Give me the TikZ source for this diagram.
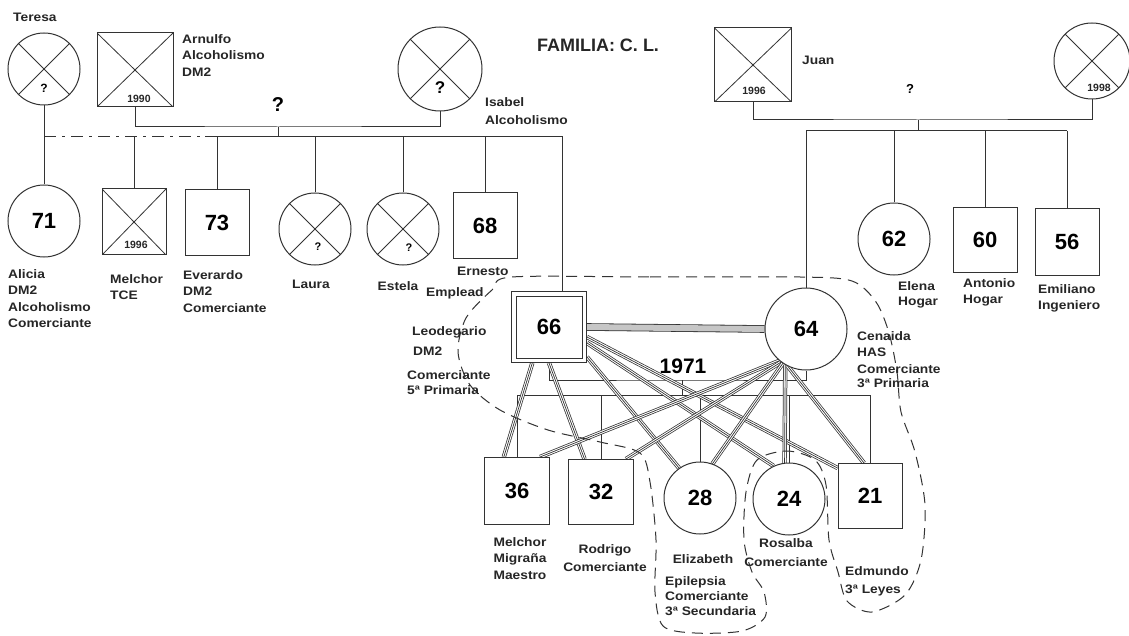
\documentclass[tikz,border=0pt]{standalone}
\usepackage{fontspec}
\setmainfont{Liberation Sans}
\newfontfamily\labfam{Liberation Sans}[FakeStretch=1.12]
\usetikzlibrary{calc}
\pgfdeclarelayer{bg}
\pgfsetlayers{bg,main}
\newcommand\labf{\labfam\bfseries\fontsize{12.3}{16.5}\selectfont}
\newcommand\numf{\bfseries\fontsize{22}{22}\selectfont}
\newcommand\yrf{\bfseries\fontsize{10.5}{11}\selectfont}
\definecolor{ink}{gray}{0.2}
\newcommand\trl[2]{\draw[tribase] #1 -- #2; \draw[tricore] #1 -- #2;}
\tikzset{
  mal/.style={draw=ink, line width=1pt, rectangle, minimum width=64pt, minimum height=66pt, font=\numf, fill=white},
  fem/.style={draw=ink, line width=1pt, circle, minimum size=72pt, font=\numf, fill=white},
  dead/.style={path picture={\draw[ink, line width=0.8pt] (path picture bounding box.north west) -- (path picture bounding box.south east) (path picture bounding box.south west) -- (path picture bounding box.north east);}},
  lab/.style={anchor=north west, align=left, font=\labf, text=black!85},
  labc/.style={anchor=north, align=center, font=\labf, text=black!85},
  yrlab/.style={font=\yrf, text=black!85},
  ln/.style={draw=ink, line width=1pt},
  hh/.style={draw=ink, line width=1pt, dash pattern=on 11pt off 7pt},
  tribase/.style={draw=ink, line width=0.75pt, double=white, double distance=2.8pt},
  tricore/.style={draw=ink, line width=0.7pt},
}
\begin{document}
\begin{tikzpicture}[x=1pt, y=-1pt, every node/.style={inner sep=0pt}]
\useasboundingbox (0,0) rectangle (1129,636);

% ---------- generation I ----------
\node[fem, dead, minimum size=72pt] (teresa) at (44,69) {};
\node[mal, dead, minimum width=76pt, minimum height=74pt] (arnulfo) at (135,70) {};
\node[fem, dead, minimum size=84pt] (isabel) at (440,69) {};
\node[mal, dead, minimum width=77pt, minimum height=74pt] (juan) at (753,65) {};
\node[fem, dead, minimum size=76pt] (juanw) at (1092,61) {};

\node[font=\bfseries\fontsize{12}{12}\selectfont] (qT) at (44,88) {?};
\node[font=\bfseries\fontsize{17}{17}\selectfont] (qI) at (440,88) {?};
\node[yrlab] (yA) at (139,99) {1990};
\node[yrlab] (yJ) at (754,91) {1996};
\node[yrlab] (yJw) at (1099,88) {1998};

% ---------- generation II ----------
\node[fem] (alicia) at (44,221) {71};
\node[mal, dead] (melchorA) at (134,222) {};
\node[yrlab] (yM) at (136,245) {1996};
\node[mal] (everardo) at (217,223) {73};
\node[fem, dead] (laura) at (315,229) {};
\node[fem, dead] (estela) at (403,229) {};
\node[font=\bfseries\fontsize{11}{11}\selectfont] (qL) at (318,247) {?};
\node[font=\bfseries\fontsize{11}{11}\selectfont] (qE) at (409,248) {?};
\node[mal] (ernesto) at (485,226) {68};
\node[mal, minimum width=75pt, minimum height=71pt] (leo) at (549,327) {66};
\draw[ink, line width=0.9pt] ($(leo.north west)+(5,5)$) rectangle ($(leo.south east)+(-5,-5)$);
\node[fem, minimum size=82pt] (cen) at (806,329) {64};
\node[fem] (elena) at (894,239) {62};
\node[mal, minimum height=65pt] (antonio) at (985,240) {60};
\node[mal, minimum height=67pt] (emiliano) at (1067,242) {56};

% ---------- generation III ----------
\node[mal, minimum width=65pt, minimum height=67pt] (s36) at (517,491) {36};
\node[mal, minimum width=65pt, minimum height=65pt] (s32) at (601,492) {32};
\node[fem] (c28) at (700,498) {28};
\node[fem] (c24) at (789,499) {24};
\node[mal, minimum height=65pt] (s21) at (870,496) {21};

\begin{pgfonlayer}{bg}
\fill[white] (0,0) rectangle (1129,636);
% ---------- family lines, generation I ----------
\coordinate (m1) at (278,127);
\coordinate (sib1) at (278,137);
\coordinate (sibL) at (205,137);
\coordinate (sibR) at (562,137);
\draw[ln] (arnulfo.south) |- (m1) -| (isabel.south);
\draw[ln] (m1) -- (sib1);
\draw[ln] (sibL) -- (sibR) -- (sibR |- leo.north);
\draw[ln, dash pattern=on 12pt off 6pt on 3pt off 6pt] (teresa.south |- sib1) -- (sibL);
\draw[ln] (teresa.south) -- (alicia.north);
\foreach \n in {melchorA, everardo, laura, estela, ernesto}
  \draw[ln] (\n.north |- sib1) -- (\n.north);

\coordinate (m2) at (918,120);
\coordinate (sib2) at (918,131);
\draw[ln] (juan.south) |- (m2) -| (juanw.south);
\draw[ln] (m2) -- (sib2);
\draw[ln] (cen.north |- sib2) -- (emiliano.north |- sib2);
\foreach \n in {cen, elena, antonio, emiliano}
  \draw[ln] (\n.north |- sib2) -- (\n.north);

% ---------- nuclear family ----------
\draw[draw=ink, line width=0.8pt, double=gray!45, double distance=6pt] (leo.east) -- (cen.west);
\coordinate (m3) at (682,380);
\coordinate (sib3) at (682,395);
\draw[ln] (leo.south) |- (m3) -| (cen.south);
\draw[ln] (m3) -- (sib3);
\draw[ln] (s36.north |- sib3) -- (s21.north |- sib3);
\foreach \n in {s36, s32, c28, c24, s21}
  \draw[ln] (\n.north |- sib3) -- (\n.north);

% relationship bundles from 66
\trl{($(leo.south west)!0.28!(leo.south east)$)}{($(s36.north west)!0.3!(s36.north east)$)}
\trl{($(leo.south west)!0.5!(leo.south east)$)}{($(s32.north west)!0.25!(s32.north east)$)}
\trl{($(leo.south east)+(0,-6)$)}{(c28.125)}
\trl{($(leo.east)+(0,16)$)}{(c24.115)}
\trl{($(leo.east)+(0,10)$)}{($(s21.north west)+(0,5)$)}
% relationship bundles from 64
\trl{(cen.230)}{($(s36.north east)+(-10,0)$)}
\trl{(cen.233)}{($(s32.north east)+(-8,0)$)}
\trl{(cen.236)}{(c28.70)}
\trl{(cen.240)}{(c24.97)}
\trl{(cen.244)}{($(s21.north)+(-6,0)$)}

% household line
\draw[hh] plot[smooth cycle, tension=0.5] coordinates {
 (512,277) (650,277) (800,277) (852,281) (876,302) (889,333) (897,372) (901,412)
 (915,452) (925,505) (921,560) (905,595) (872,612) (847,601) (838,572) (829,540)
 (826,485) (815,460) (787,451) (757,460) (746,492) (744,540) (752,572) (764,592)
 (765,617) (742,631) (695,633) (663,626) (655,592) (656,540) (650,482) (640,453)
 (600,442) (548,430) (500,410) (470,385) (458,352) (466,318) (492,290)};
\end{pgfonlayer}

\node[font=\bfseries\fontsize{20}{20}\selectfont] (qM) at (278,105) {?};
\node[font=\bfseries\fontsize{13}{13}\selectfont] (qJ) at (910,89) {?};
\node[font=\bfseries\fontsize{21}{21}\selectfont] (y71) at (683,366) {1971};

% ---------- labels ----------
\node[font=\bfseries\fontsize{18}{18}\selectfont, text=black!85] (title) at (598,45) {FAMILIA: C. L.};
\node[lab] (lTeresa) at (13,13) {Teresa};
\node[lab] (lArnulfo) at (182,34) {Arnulfo\\Alcoholismo\\DM2};
\node[lab] (lIsabel) at (485,97) {Isabel\\[2pt]Alcoholismo};
\node[lab] (lJuan) at (802,56) {Juan};
\node[lab] (lAlicia) at (8,269) {Alicia\\DM2\\Alcoholismo\\Comerciante};
\node[lab] (lMelchorA) at (110,274) {Melchor\\TCE};
\node[lab] (lEverardo) at (183,270) {Everardo\\DM2\\Comerciante};
\node[labc] (lLaura) at (311,280) {Laura};
\node[labc] (lEstela) at (398,281) {Estela};
\node[lab] (lErnesto) at (457,267) {Ernesto};
\node[lab] (lEmplead) at (426,287) {Emplead};
\node[lab] (lLeo1) at (412,326) {Leodegario};
\node[lab] (lLeo2) at (413,347) {DM2};
\node[lab] (lLeo3) at (407,370) {Comerciante\\[-1pt]5ª Primaria};
\node[lab] (lElena) at (898,281) {Elena\\[-1.5pt]Hogar};
\node[lab] (lAntonio) at (963,278) {Antonio\\Hogar};
\node[lab] (lEmiliano) at (1038,284) {Emiliano\\Ingeniero};
\node[lab] (lCen) at (857,331) {Cenaida\\HAS\\Comerciante\\[-2.5pt]3ª Primaria};
\node[labc] (lMelchorB) at (520,537) {Melchor\\Migraña\\Maestro};
\node[labc] (lRodrigo) at (605,544) {Rodrigo\\[1.5pt]Comerciante};
\node[labc] (lEliz) at (703,554) {Elizabeth};
\node[lab] (lEliz2) at (665,576) {Epilepsia\\[-1pt]Comerciante\\[-2pt]3ª Secundaria};
\node[labc] (lRosalba) at (786,538) {Rosalba\\[3pt]Comerciante};
\node[lab] (lEdmundo) at (845,566) {Edmundo\\[1.5pt]3ª Leyes};
\end{tikzpicture}
\end{document}
